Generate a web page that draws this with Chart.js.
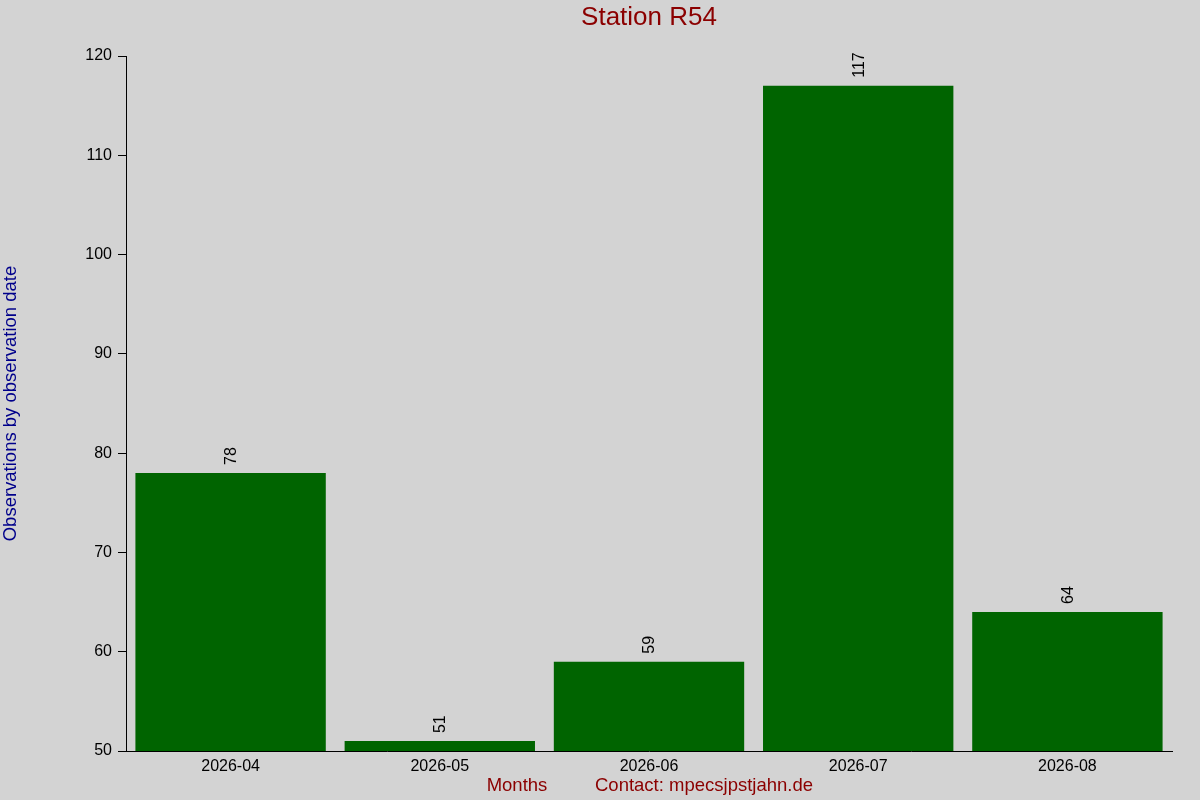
<!DOCTYPE html>
<html>
<head>
<meta charset="utf-8">
<script src="https://cdn.jsdelivr.net/npm/chart.js@4"></script>
<style>
    body { margin: 0; background: #d3d3d3; }
</style>
</head>
<body>
<canvas id="grafico" width="1200" height="800"></canvas>
<script>
const months = ['2026-04', '2026-05', '2026-06', '2026-07', '2026-08']
const observations = [78, 51, 59, 117, 64]
const yTicks = [50, 60, 70, 80, 90, 100, 110, 120]

const fontFamily = '"Liberation Sans", Arial, sans-serif'

// fondo gris, títulos y etiquetas de valor
const decoraciones = {
    id: 'decoraciones',
    beforeDraw(chart) {
        const ctx = chart.ctx
        ctx.save()
        ctx.fillStyle = '#d3d3d3'
        ctx.fillRect(0, 0, chart.width, chart.height)
        ctx.restore()
    },
    afterDraw(chart) {
        const ctx = chart.ctx
        const area = chart.chartArea
        ctx.save()

        ctx.fillStyle = '#8b0000'
        ctx.font = '26px ' + fontFamily
        ctx.textAlign = 'center'
        ctx.textBaseline = 'middle'
        ctx.fillText('Station R54', (area.left + area.right) / 2, 18)

        ctx.font = '18.5px ' + fontFamily
        ctx.fillText('Months', 517, 786)
        ctx.fillText('Contact: mpecsjpstjahn.de', 704, 786)

        ctx.save()
        ctx.fillStyle = '#00008b'
        ctx.translate(11, (area.top + area.bottom) / 2)
        ctx.rotate(-Math.PI / 2)
        ctx.fillText('Observations by observation date', 0, 0)
        ctx.restore()

        // valores encima de cada barra
        const meta = chart.getDatasetMeta(0)
        ctx.fillStyle = 'black'
        ctx.font = '16px ' + fontFamily
        ctx.textAlign = 'left'
        meta.data.forEach((bar, i) => {
            ctx.save()
            ctx.translate(bar.x + 1, bar.y - 8)
            ctx.rotate(-Math.PI / 2)
            ctx.fillText(String(observations[i]), 0, 0)
            ctx.restore()
        })
        ctx.restore()
    }
}

const ctx = document.getElementById('grafico').getContext('2d')
new Chart(ctx, {
    type: 'bar',
    data: {
        labels: months,
        datasets: [{
            data: observations,
            backgroundColor: '#006400',
            borderWidth: 0,
            barPercentage: 0.91,
            categoryPercentage: 1
        }]
    },
    options: {
        responsive: false,
        devicePixelRatio: 1,
        animation: false,
        layout: {
            padding: { top: 56, right: 28, left: 0, bottom: 0 }
        },
        plugins: {
            legend: { display: false },
            title: { display: false },
            tooltip: { enabled: false }
        },
        scales: {
            y: {
                min: 50,
                max: 120,
                afterFit(scale) { scale.width = 126 },
                afterBuildTicks(scale) { scale.ticks = yTicks.map(v => ({ value: v })) },
                ticks: {
                    color: 'black',
                    padding: 6,
                    font: { size: 16, family: fontFamily }
                },
                grid: {
                    drawOnChartArea: false,
                    drawTicks: true,
                    tickLength: 8,
                    color: 'black'
                },
                border: { color: 'black', width: 1 }
            },
            x: {
                afterFit(scale) { scale.height = 49 },
                ticks: {
                    color: 'black',
                    padding: -2,
                    font: { size: 16, family: fontFamily }
                },
                grid: { display: false },
                border: { color: 'black', width: 1 }
            }
        }
    },
    plugins: [decoraciones]
})
</script>
</body>
</html>
